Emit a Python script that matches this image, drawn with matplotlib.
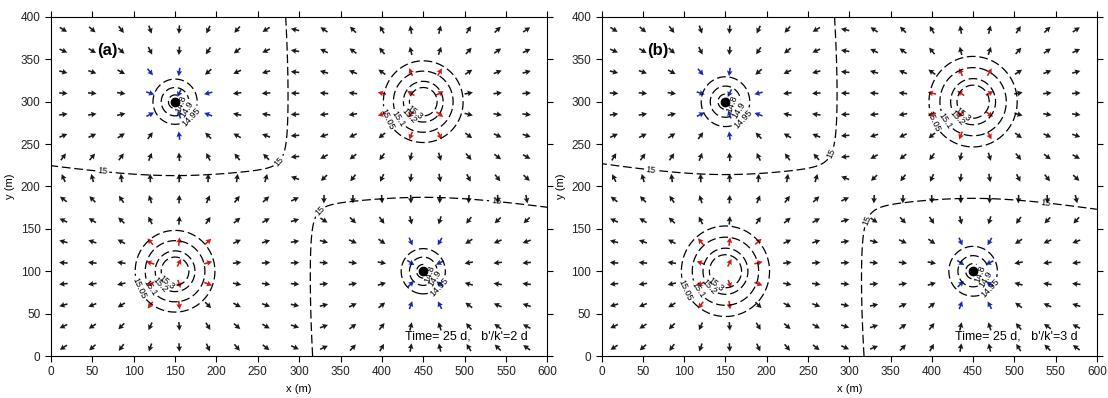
import numpy as np
import matplotlib.pyplot as plt

plt.rcParams['font.family'] = ['Liberation Sans', 'DejaVu Sans']

# wells: position, head-change scale (m; + injection, - pumping), smoothing radius (m)
well_x = [150, 450, 150, 450]
well_y = [300, 300, 100, 100]
well_q = [-0.19, 0.81, 0.81, -0.19]
well_r0 = [3, 14, 14, 3]

# leakage factor (m) for the two cases
leak_B = [20, 22]
panel_tags = ['(a)', '(b)']
panel_notes = ["Time= 25 d,   b'/k'=2 d", "Time= 25 d,   b'/k'=3 d"]

levels = [14.7, 14.8, 14.9, 14.95, 15.0, 15.05, 15.1, 15.2, 15.3]
label15_pos = [
    [(62, 217), (274, 231), (327, 169), (538, 182)],
    [(60, 221), (274, 241), (326, 158), (538, 178)],
]

# velocity arrow grid
grid_x = np.arange(15, 600, 35)
grid_y = np.arange(10, 400, 25)
color_radius = {'inj': 55, 'pump': 48}

# tabulated Bessel K0, K1 (leaky well function)
t = np.linspace(0, 15, 3000)
xs = np.logspace(-3, 2.2, 1500)
e = np.exp(-np.outer(xs, np.cosh(t)))
k0_tab = np.trapezoid(e, t, axis=1)
k1_tab = np.trapezoid(e * np.cosh(t), t, axis=1)


def kfun(tab, x):
    x = np.clip(x, xs[0], xs[-1])
    return np.exp(np.interp(np.log(x), np.log(xs), np.log(tab)))


def head(X, Y, B):
    h = np.full(np.shape(X), 15.0)
    for wx, wy, q, r0 in zip(well_x, well_y, well_q, well_r0):
        rho = np.sqrt((X - wx) ** 2 + (Y - wy) ** 2 + r0 ** 2)
        h = h + q * kfun(k0_tab, rho / B)
    return h


def flow(X, Y, B):
    u = np.zeros(np.shape(X))
    v = np.zeros(np.shape(X))
    for wx, wy, q, r0 in zip(well_x, well_y, well_q, well_r0):
        dx, dy = X - wx, Y - wy
        rho = np.sqrt(dx ** 2 + dy ** 2 + r0 ** 2)
        f = q * kfun(k1_tab, rho / B) / rho
        u += f * dx
        v += f * dy
    m = np.hypot(u, v)
    m[m == 0] = 1
    return u / m, v / m


fig = plt.figure(figsize=(11.08, 3.98), dpi=100)
axes = [fig.add_axes([0.046, 0.1055, 0.448, 0.852]),
        fig.add_axes([0.543, 0.1055, 0.447, 0.852])]

xc = np.linspace(0, 600, 301)
yc = np.linspace(0, 400, 201)
XC, YC = np.meshgrid(xc, yc)
GX, GY = np.meshgrid(grid_x, grid_y)

for i, ax in enumerate(axes):
    B = leak_B[i]
    H = head(XC, YC, B)
    cs = ax.contour(XC, YC, H, levels=levels, colors='k', linewidths=0.9,
                    linestyles=[(0, (7, 3))])

    # label positions along (slightly fanned) rays from each well
    pos = list(label15_pos[i])
    rr = np.linspace(2, 90, 500)
    for wx, wy, q in zip(well_x, well_y, well_q):
        k = 0
        for lv in levels:
            if (q > 0 and lv > 15) or (q < 0 and 14.75 < lv < 15):
                base = 205 if q > 0 else -20
                step = 9 if q > 0 else -12
                ang = np.deg2rad(base + k * step)
                px, py = wx + rr * np.cos(ang), wy + rr * np.sin(ang)
                hr = head(px, py, B)
                if hr.min() < lv < hr.max():
                    order = np.argsort(hr)
                    r_lv = np.interp(lv, hr[order], rr[order])
                    pos.append((wx + r_lv * np.cos(ang), wy + r_lv * np.sin(ang)))
                k += 1
    ax.clabel(cs, manual=pos, inline=True, inline_spacing=2, fontsize=6.5,
              fmt='%g')

    U, V = flow(GX, GY, B)
    cols = []
    for gx, gy in zip(GX.ravel(), GY.ravel()):
        c = '#161c1c'
        for wx, wy, q in zip(well_x, well_y, well_q):
            d = np.hypot(gx - wx, gy - wy)
            if q > 0 and d < color_radius['inj']:
                c = '#d01818'
            elif q < 0 and d < color_radius['pump']:
                c = '#1a2ab0'
        cols.append(c)
    ax.quiver(GX, GY, U, V, color=cols, pivot='middle', units='inches',
              scale_units='inches', scale=1 / 0.085, width=0.016,
              headwidth=3.6, headlength=3.4, headaxislength=3.0)

    for wx, wy, q in zip(well_x, well_y, well_q):
        if q < 0:
            ax.plot(wx, wy, 'o', color='k', ms=6, zorder=5)

    ax.text(68, 360, panel_tags[i], fontsize=12, fontweight='bold',
            ha='center', va='center')
    ax.text(428, 23, panel_notes[i], fontsize=9, ha='left', va='center')

    ax.set_xlim(0, 600)
    ax.set_ylim(0, 400)
    ax.set_xticks(np.arange(0, 601, 50))
    ax.set_yticks(np.arange(0, 401, 50))
    ax.tick_params(direction='out', top=True, right=True, length=4,
                   labelsize=8.5, labelcolor='#222222')
    ax.set_xlabel('x (m)', fontsize=8)
    ax.set_ylabel('y (m)', fontsize=8)

fig.savefig('out.png', dpi=100)
